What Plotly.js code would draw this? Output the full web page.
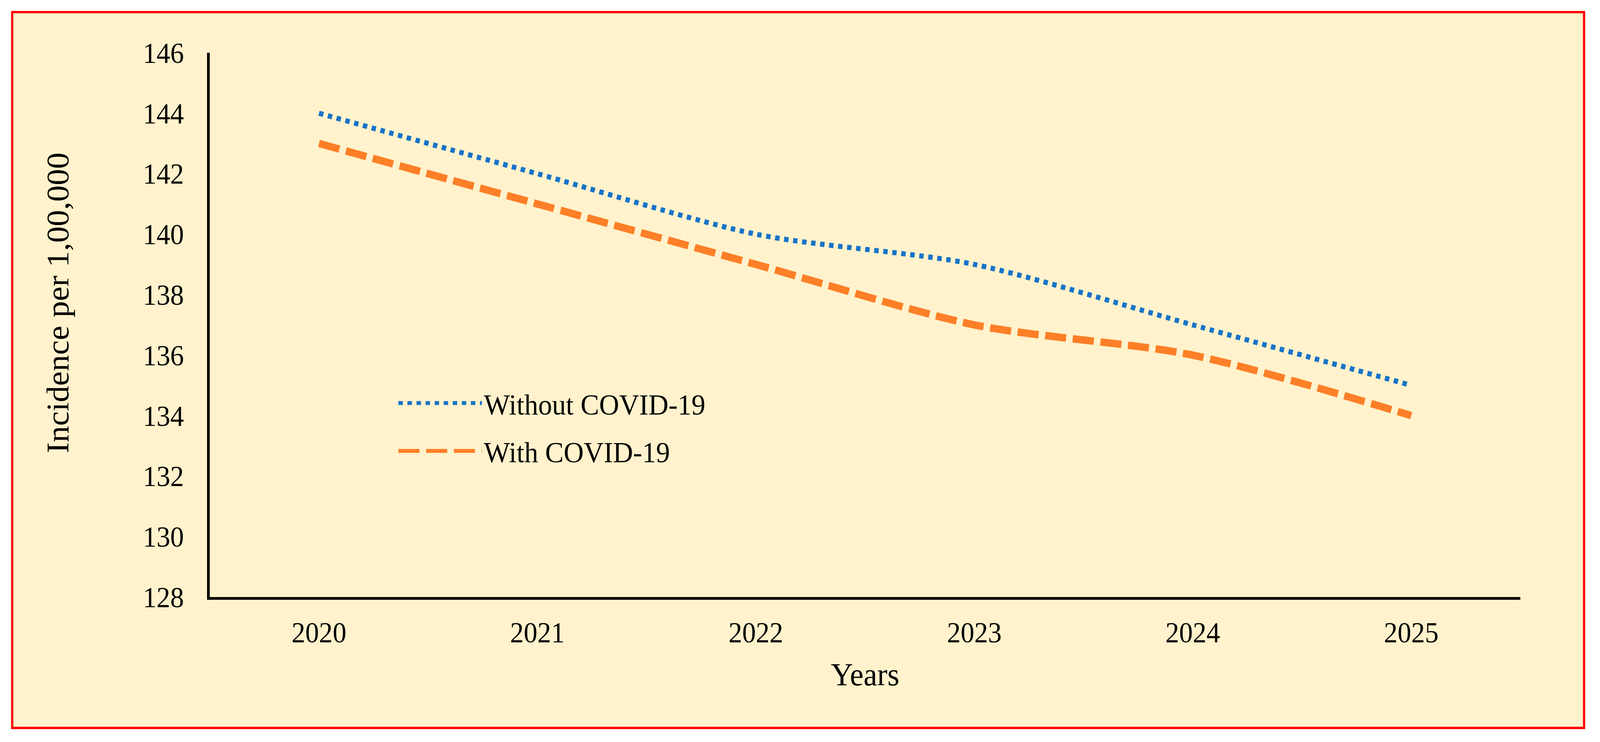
<!DOCTYPE html>
<html>
<head>
<meta charset="utf-8">
<script src="https://cdn.plot.ly/plotly-3.0.1.min.js"></script>
<style>
  html, body { margin: 0; padding: 0; background: #ffffff; overflow: hidden; }
  #stage { position: absolute; left: 0; top: 0; width: 4325px; height: 1899px; transform-origin: 0 0; }
  #frame {
    position: absolute; left: 30px; top: 28px;
    width: 4255px; height: 1838px;
    box-sizing: border-box;
    border: 6px solid #FF0000;
    background: #FFF2CC;
  }
  #chart { position: absolute; left: 0; top: 0; width: 4325px; height: 1899px; }
</style>
</head>
<body>
<div id="stage">
  <div id="frame"></div>
  <div id="chart"></div>
</div>
<script>
// ---- data ----
var years = ['2020', '2021', '2022', '2023', '2024', '2025'];
var withoutCovid = [144, 142, 140, 139, 137, 135];
var withCovid = [143, 141, 139, 137, 136, 134];
var seriesNames = ['Without COVID-19', 'With COVID-19'];
var yTickVals = [128, 130, 132, 134, 136, 138, 140, 142, 144, 146];
var xTitle = 'Years';
var yTitle = 'Incidence per 1,00,000';

var FONT = 'Liberation Serif, Times New Roman, serif';

// the chart is laid out at the reference size (4325 x 1899) and the whole
// stage is scaled to whatever the real viewport is
var W = window.innerWidth || 4325, H = window.innerHeight || 1899;
document.getElementById('stage').style.transform =
  'scale(' + (W / 4325) + ',' + (H / 1899) + ')';

var traces = [
  {
    x: years, y: withoutCovid, name: seriesNames[0],
    type: 'scatter', mode: 'lines', legendgroup: 'a',
    line: { color: '#1873C8', width: 13, dash: '12px,12.5px', shape: 'spline', smoothing: 0.8 },
    hoverinfo: 'x+y'
  },
  {
    x: years, y: withCovid, name: seriesNames[1],
    type: 'scatter', mode: 'lines', legendgroup: 'b',
    line: { color: '#FD7F27', width: 19, dash: '57px,18px', shape: 'spline', smoothing: 0.8 },
    hoverinfo: 'x+y'
  }
];

var layout = {
  width: 4325, height: 1899,
  margin: { l: 567, r: 215, t: 135, b: 371, autoexpand: false },
  paper_bgcolor: 'rgba(0,0,0,0)',
  plot_bgcolor: 'rgba(0,0,0,0)',
  font: { family: FONT, color: '#000000', size: 75 },
  showlegend: true,
  legend: {
    x: 0.1425, y: 0.396, xanchor: 'left', yanchor: 'top',
    bgcolor: 'rgba(0,0,0,0)', borderwidth: 0,
    font: { family: FONT, size: 75, color: '#000000' },
    itemwidth: 226, tracegroupgap: 22, traceorder: 'grouped'
  },
  xaxis: {
    type: 'category', range: [-0.5, 5.5],
    showline: true, linecolor: '#000000', linewidth: 7,
    showgrid: false, zeroline: false, ticks: '',
    tickfont: { family: FONT, size: 74, color: '#000000' },
    ticklabelstandoff: 20,
    title: { text: xTitle, font: { family: FONT, size: 83, color: '#000000' }, standoff: 40 },
    fixedrange: true
  },
  yaxis: {
    range: [128, 146], tickvals: yTickVals,
    showline: true, linecolor: '#000000', linewidth: 7,
    showgrid: false, zeroline: false, ticks: '',
    tickfont: { family: FONT, size: 74, color: '#000000' },
    ticklabelstandoff: 48,
    fixedrange: true
  },
  annotations: [
    {
      text: yTitle, xref: 'paper', yref: 'paper',
      x: -0.1157, y: 0.5406, xanchor: 'center', yanchor: 'middle',
      textangle: -90, showarrow: false,
      font: { family: FONT, size: 84, color: '#000000' }
    }
  ]
};

Plotly.newPlot('chart', traces, layout, { displayModeBar: false, staticPlot: true });
</script>
</body>
</html>
